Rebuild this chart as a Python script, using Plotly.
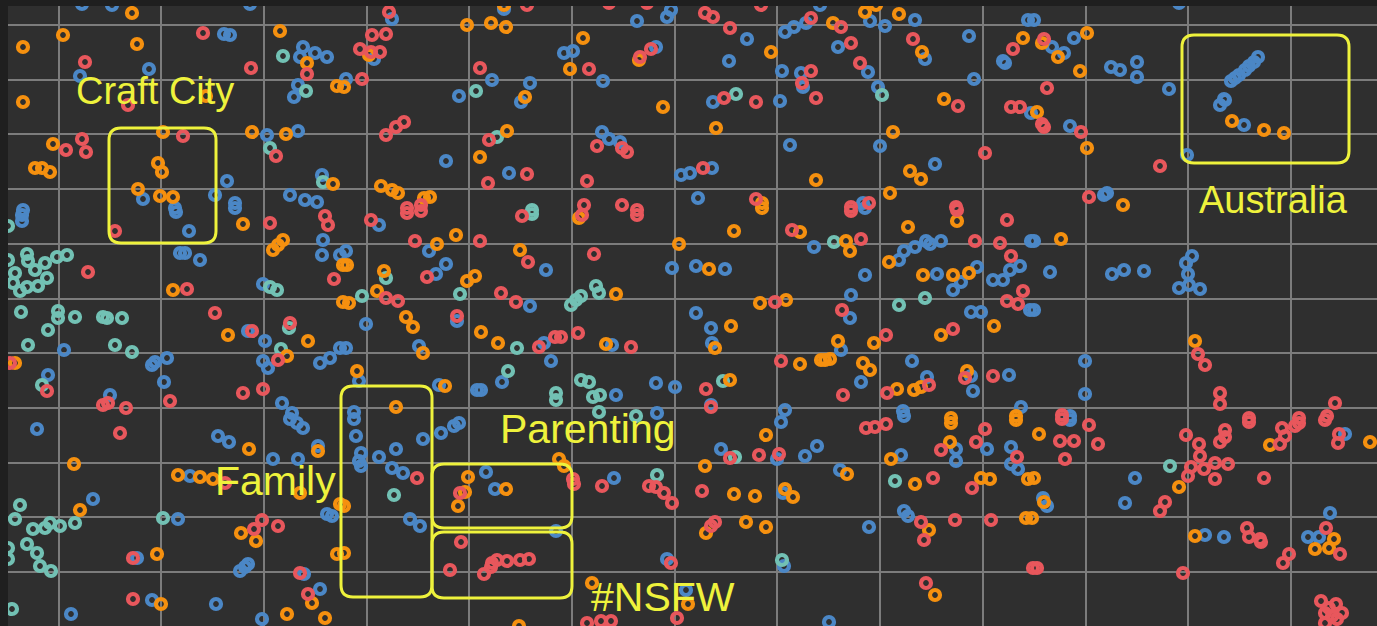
import plotly.graph_objects as go

# Embedding coordinates (x rightwards, y downwards)
blue_pts = [(82,4),(112,5),(250,4),(224,34),(230,35),(303,47),(300,57),(315,53),(327,57),(298,85),(294,97),(80,76),(149,69),(267,135),(298,131),(143,199),(215,195),(227,181),(235,203),(290,195),(305,200),(317,202),(322,175),(175,208),(23,210),
(22,215),(22,221),(176,212),(189,231),(235,208),(323,240),(322,255),(340,255),(180,253),(185,253),(200,260),(263,284),(64,350),(248,331),(265,341),(263,361),(268,368),(320,363),(330,358),(340,348),(152,365),(155,362),(167,358),(48,375),(164,382),(282,403),(292,413),(110,395),
(37,429),(218,436),(229,442),(290,419),(297,423),(303,428),(273,459),(298,459),(318,446),(190,476),(93,499),(178,519),(137,558),(240,571),(245,567),(248,564),(304,574),(320,589),(152,600),(216,604),(71,614),(262,619),(327,514),(332,516),
(392,19),(374,59),(346,79),(504,9),(492,80),(459,96),(530,83),(521,102),(564,53),(573,51),(603,81),(637,21),(667,17),(671,10),(656,47),(602,132),(609,139),(620,142),(446,161),(509,173),(681,175),
(379,225),(429,251),(546,270),(672,268),(346,251),(436,274),(446,264),(530,306),(366,324),(457,321),(544,343),(612,345),(346,348),(419,346),(551,361),(359,381),(502,382),(439,385),(477,390),(481,390),(616,395),(656,383),(675,387),(354,412),(657,413),
(354,419),(356,436),(361,453),(359,461),(361,466),(379,457),(396,449),(392,468),(403,473),(423,439),(441,433),(454,426),(459,423),(410,519),(420,526),(486,472),(495,489),(556,531),(614,478),(667,559),(686,590),
(747,39),(729,61),(785,32),(794,27),(806,23),(820,5),(870,21),(885,26),(915,20),(838,47),(925,59),(969,36),(782,71),(801,73),(803,87),(780,101),(868,72),(878,87),(713,102),(974,79),(1031,113),(1003,61),(1005,63),(1028,20),(880,146),(790,145),(712,168),(690,173),(935,164),(698,198),(863,203),
(865,208),(814,247),(696,266),(725,269),(865,275),(899,260),(904,251),(915,247),(926,241),(930,244),(941,241),(937,274),(953,290),(961,282),(977,267),(1031,241),(993,280),(1003,280),(1010,270),(1020,266),(1030,310),(851,295),(850,318),(696,313),(971,312),(981,312),(711,328),(712,343),(841,350),(912,361),(861,382),(971,376),(973,391),(1009,375),(927,377),(711,405),(785,410),(903,411),(1021,407),
(781,422),(904,416),(956,449),(956,461),(987,449),(1011,447),(1011,464),(1018,469),(721,449),(777,459),(805,456),(817,446),(901,455),(840,470),(783,493),(869,527),(904,511),(908,516),(784,566),(829,622),
(1034,20),(1052,47),(1064,53),(1074,38),(1111,67),(1120,70),(1137,62),(1137,77),(1169,89),(1179,3),(1258,57),(1254,62),(1249,66),(1245,70),(1239,75),(1235,78),(1231,81),(1224,99),(1220,105),(1225,100),(1244,125),(1070,126),(1187,155),(1104,195),(1107,193),
(1034,241),(1050,272),(1112,274),(1124,270),(1144,271),(1192,256),(1186,263),(1188,274),(1179,288),(1189,285),(1200,289),(1034,310),(1085,361),(1085,394),(1070,416),
(1070,420),(1043,498),(1047,506),(1135,478),(1125,503),(1205,535),(1224,537),(1345,434),(1330,513),(1308,537),(1319,537)]

orange_pts = [(132,13),(63,35),(23,47),(137,44),(280,31),(307,63),(337,86),(23,102),(206,96),(163,132),(252,132),(286,134),(53,144),(35,168),(42,168),(50,172),(158,163),(162,172),(138,189),(160,196),(173,197),(333,184),
(243,224),(273,250),(278,245),(283,240),(343,265),(343,302),(173,290),(228,335),(308,341),(287,356),(15,363),
(249,449),(318,451),(74,464),(178,475),(200,477),(213,479),(300,493),(80,510),(241,533),(256,541),(337,554),(157,554),(312,603),(161,604),(287,614),(325,618),(340,504),
(369,55),(344,87),(467,25),(491,23),(506,27),(504,5),(525,97),(583,38),(570,69),(639,60),(663,107),(507,131),(480,157),(381,186),(392,190),(398,193),(424,198),(430,197),
(579,218),(437,244),(456,235),(520,250),(679,244),(347,265),(384,271),(377,291),(349,303),(467,281),(475,276),(616,294),(406,317),(413,327),(481,332),(498,343),(606,344),(423,353),(357,371),(445,386),(396,407),
(344,506),(344,553),(468,477),(465,492),(458,506),(506,489),(559,459),(564,466),(592,583),(519,626),
(771,52),(833,23),(865,12),(876,5),(899,14),(922,52),(716,128),(944,99),(1023,38),(893,132),(816,180),(910,171),(921,179),(890,193),(762,203),
(762,208),(734,231),(800,232),(846,241),(850,251),(908,227),(957,221),(709,269),(889,262),(923,275),(953,275),(969,273),(760,303),(786,300),(731,326),(715,348),(838,341),(874,343),(941,335),(994,326),(800,364),(821,360),(825,360),(830,359),(863,363),(870,370),(967,371),(730,380),(897,389),(914,390),(921,387),(1016,416),(951,418),
(951,423),(1016,420),(950,442),(766,435),(705,466),(891,459),(847,474),(915,484),(981,478),(990,479),(1028,479),(734,494),(755,496),(785,489),(793,497),(706,533),(746,522),(766,527),(929,530),(1026,518),(935,595),(688,604),
(1042,43),(1058,57),(1087,33),(1080,71),(1037,112),(1087,148),(1123,205),(1232,121),(1264,130),(1284,133),
(1061,239),(1195,341),
(1039,434),(1034,478),(1044,502),(1032,518),(1179,487),(1270,445),(1370,442),(1195,536),(1334,539),(1315,549),(1329,548)]

red_pts = [(203,33),(307,74),(85,62),(251,68),(128,105),(183,136),(276,156),(66,150),(82,139),(86,152),
(115,231),(270,223),(325,216),(328,225),(334,279),(88,272),(187,289),(215,313),(252,331),(290,323),(278,360),(10,363),(47,391),(170,401),(243,393),(263,389),(103,405),(108,403),(126,408),
(120,433),(225,483),(262,520),(278,526),(254,529),(133,558),(300,573),(308,594),(133,599),
(389,12),(372,35),(386,34),(360,49),(380,52),(371,52),(362,79),(527,5),(480,68),(589,69),(640,57),(651,49),(386,135),(396,127),(404,122),(489,140),(597,146),(622,148),(627,152),(527,174),(488,183),(587,181),(407,208),(421,205),(584,205),(622,205),(637,210),(609,3),(647,3),
(371,220),(407,213),(421,211),(522,216),(582,215),(637,215),(415,241),(480,241),(528,262),(594,254),(386,298),(398,301),(427,277),(501,293),(516,302),(457,316),(539,347),(555,337),(561,337),(578,333),(631,347),
(417,478),(460,493),(461,542),(450,570),(484,574),(492,563),(497,560),(507,561),(520,560),(529,559),(491,567),(573,479),(574,484),(602,486),(649,486),(656,487),(664,493),(672,503),(671,563),(587,623),(601,621),(611,621),(677,618),
(705,13),(713,17),(761,5),(730,28),(811,18),(841,27),(851,43),(913,39),(811,71),(802,83),(816,98),(860,63),(724,98),(756,102),(958,106),(1011,107),(1020,107),(1013,49),(985,153),(703,168),(756,199),(851,207),(869,203),(956,207),
(792,230),(861,239),(851,211),(957,210),(1007,220),(975,241),(1000,243),(1011,256),(1023,291),(1007,301),(1018,304),(775,302),(842,310),(886,335),(953,329),(781,361),(965,378),(993,376),(706,389),(843,395),(887,393),(929,385),(711,407),
(866,428),(875,427),(886,424),(985,429),(976,442),(941,450),(1017,457),(730,458),(759,455),(779,454),(933,478),(972,488),(702,491),(715,522),(711,526),(921,522),(924,540),(955,520),(991,520),(1033,568),(926,583),
(1044,39),(1047,88),(1042,124),(1044,127),(1081,132),(1160,166),(1089,197),
(1198,354),(1205,365),(1220,393),(1220,404),(1335,403),(1062,415),(1249,418),(1299,418),(1327,416),
(1062,419),(1089,425),(1060,441),(1074,441),(1098,444),(1065,459),(1037,568),(1165,502),(1160,511),(1186,435),(1199,444),(1200,456),(1191,467),(1188,476),(1204,469),(1215,463),(1215,479),(1228,464),(1220,442),(1225,430),(1225,437),(1249,422),(1264,478),(1282,428),(1280,444),(1295,426),(1299,423),(1285,436),(1325,420),(1339,434),(1338,443),(1247,528),(1249,537),(1260,539),(1261,542),(1289,554),(1283,563),(1326,528),(1340,554),(1183,573),(1321,601),(1329,608),(1336,604),(1342,613),(1332,616),(1325,623),(1337,619),(1325,613)]

teal_pts = [(283,56),(306,91),(270,148),(323,182),
(8,226),(8,260),(27,254),(28,261),(35,270),(45,263),(47,278),(57,257),(67,255),(15,273),(13,283),(20,291),(27,287),(38,286),(270,287),(277,290),(21,312),(58,311),(58,318),(75,317),(103,317),(107,318),(122,318),(48,330),(28,345),(115,345),(132,352),(289,328),(281,349),(42,385),
(20,505),(15,519),(33,529),(45,528),(50,523),(60,526),(75,523),(8,548),(8,559),(27,544),(37,553),(40,566),(51,571),(163,518),(12,609),
(476,91),(497,137),(532,210),
(532,214),(386,278),(362,296),(460,294),(571,305),(576,300),(581,296),(596,286),(599,293),(517,348),(508,371),(581,380),(589,382),(556,393),(556,400),(593,397),(600,395),(599,412),(636,416),
(394,495),(657,475),(736,94),(882,95),(834,242),(899,305),(925,298),(723,381),(735,457),(895,481),(782,560),(1170,466)]

series_names = ["blue", "teal", "orange", "red"]
series_pts = [blue_pts, teal_pts, orange_pts, red_pts]
series_colors = ["#4b87c6", "#72c1b4", "#f5900f", "#e8575c"]

# Highlight boxes (x0, y0, x1, y1) in embedding coordinates, and labels
box_bounds = [(109,128,216,243), (1182,35,1349,163), (341,386,432,597), (432,464,572,528), (432,532,572,598)]
label_texts = ["Craft City", "Australia", "Parenting", "Family", "#NSFW"]
label_x = [155, 1273, 588, 275, 663]
label_y = [91, 200, 429, 481, 597]
label_sizes = [38, 38, 41, 41, 41]

YELLOW = "#eef23c"
PAPER = "#1f1f1f"

fig = go.Figure()
for name, pts, col in zip(series_names, series_pts, series_colors):
    fig.add_trace(go.Scatter(
        x=[p[0] for p in pts], y=[p[1] for p in pts], mode="markers", name=name,
        marker=dict(symbol="circle-open", size=10, color=col, line=dict(width=4.2, color=col)),
        hoverinfo="skip", showlegend=False))

def rounded_rect(x0, y0, x1, y1, r=12):
    return (f"M {x0+r},{y0} L {x1-r},{y0} Q {x1},{y0} {x1},{y0+r} "
            f"L {x1},{y1-r} Q {x1},{y1} {x1-r},{y1} L {x0+r},{y1} "
            f"Q {x0},{y1} {x0},{y1-r} L {x0},{y0+r} Q {x0},{y0} {x0+r},{y0} Z")

for (x0, y0, x1, y1) in box_bounds:
    fig.add_shape(type="path", path=rounded_rect(x0, y0, x1, y1), xref="x", yref="y",
                  line=dict(color=YELLOW, width=3), layer="above")

for t, x, y, s in zip(label_texts, label_x, label_y, label_sizes):
    fig.add_annotation(text=t, x=x, y=y, xref="x", yref="y", showarrow=False,
                       xanchor="center", yanchor="middle",
                       font=dict(family="Liberation Sans, Arial, sans-serif", size=s, color=YELLOW))

fig.update_layout(
    width=1377, height=626,
    margin=dict(l=8, r=0, t=6, b=0),
    paper_bgcolor=PAPER, plot_bgcolor="#2f2f2f",
    xaxis=dict(range=[8, 1377], tick0=58.5, dtick=102.7, showticklabels=False, ticks="",
               showgrid=True, gridcolor="#7c7c7c", gridwidth=2, zeroline=False, showline=False),
    yaxis=dict(range=[626, 6], tick0=25, dtick=54.7, showticklabels=False, ticks="",
               showgrid=True, gridcolor="#7c7c7c", gridwidth=2, zeroline=False, showline=False),
)

fig.write_html("out.html", config={"displayModeBar": False},
               post_script="document.body.style.margin='0';document.body.style.overflow='hidden';"
                           "document.body.style.background='" + PAPER + "';")
